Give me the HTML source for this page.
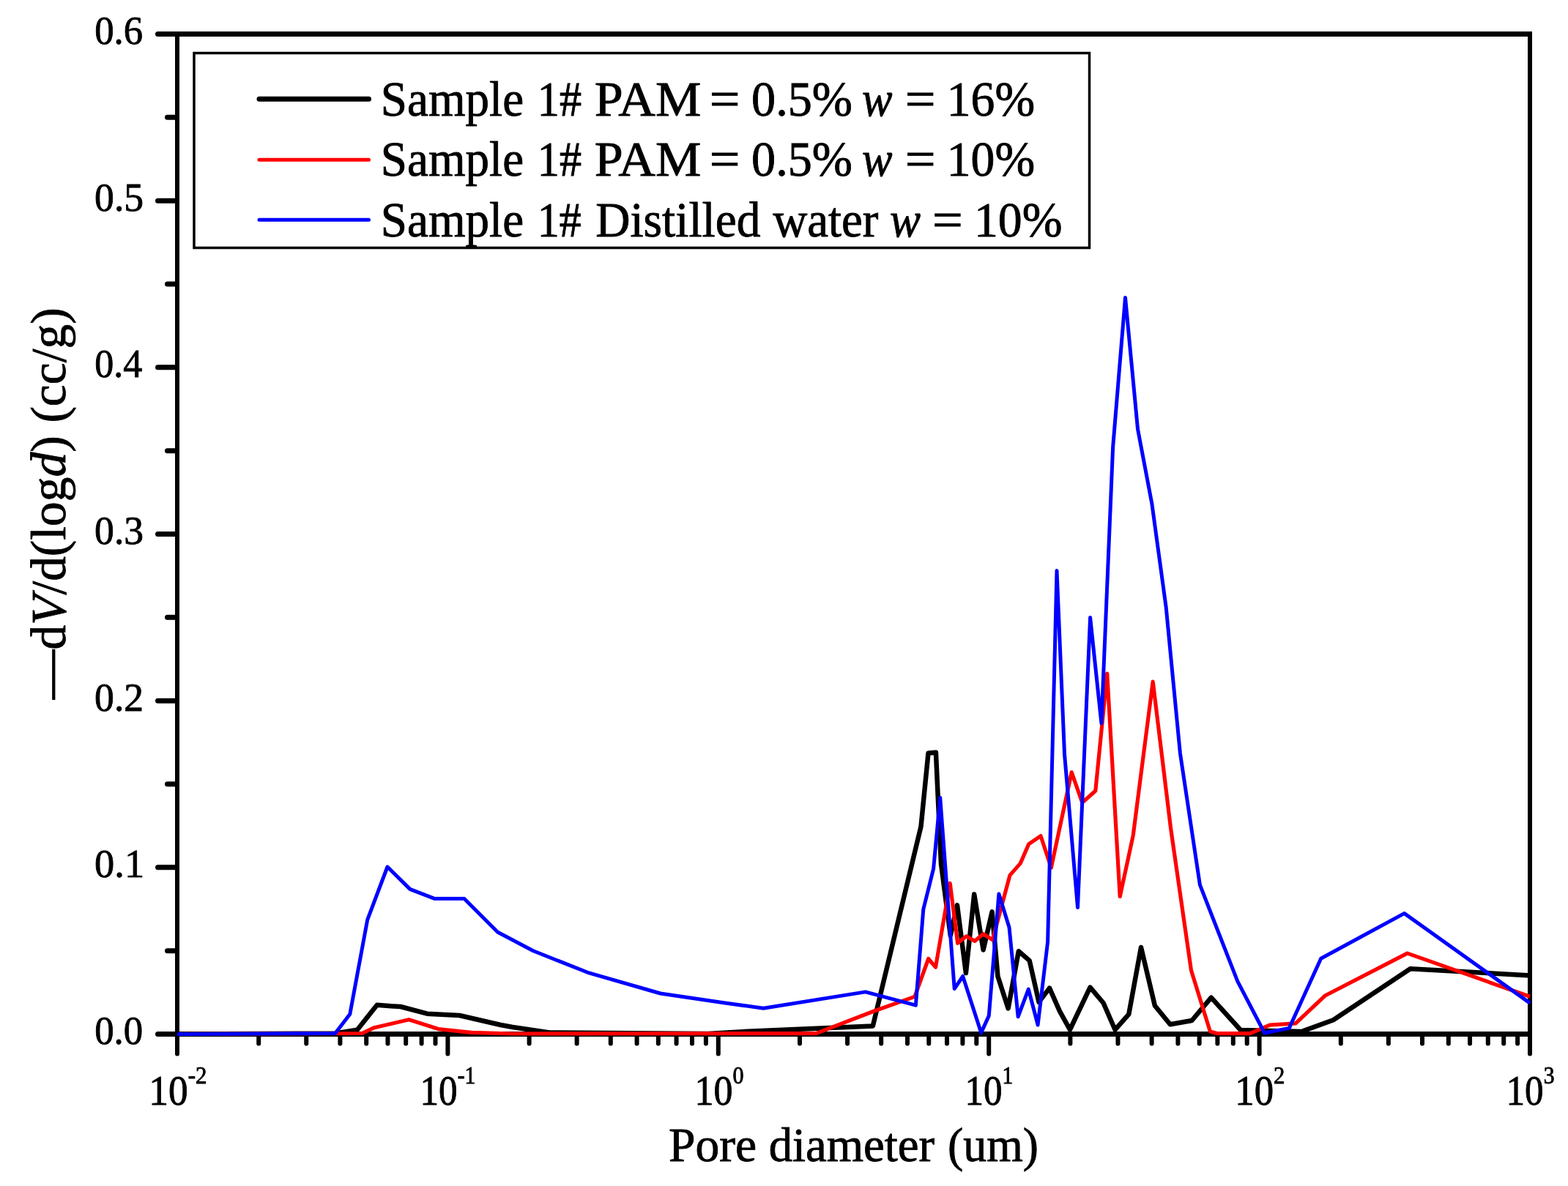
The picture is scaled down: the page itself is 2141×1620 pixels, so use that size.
<!DOCTYPE html>
<html><head><meta charset="utf-8"><title>Pore size distribution</title><style>html,body{margin:0;padding:0;background:#fff;overflow:hidden}svg{display:block}</style></head>
<body><svg width="2141" height="1620" viewBox="0 0 2141 1620">
<rect width="2141" height="1620" fill="#fff"/>
<path d="M239.0,46.5 H2092.0 M239.0,1412.5 H2092.0" fill="none" stroke="#000" stroke-width="7"/>
<path d="M242.0,43.0 V1416.0 M2089.0,43.0 V1416.0" fill="none" stroke="#000" stroke-width="6"/>
<line x1="239.0" y1="1412.50" x2="215.5" y2="1412.50" stroke="#000" stroke-width="7" stroke-linecap="round"/>
<line x1="239.0" y1="1184.83" x2="215.5" y2="1184.83" stroke="#000" stroke-width="7" stroke-linecap="round"/>
<line x1="239.0" y1="957.17" x2="215.5" y2="957.17" stroke="#000" stroke-width="7" stroke-linecap="round"/>
<line x1="239.0" y1="729.50" x2="215.5" y2="729.50" stroke="#000" stroke-width="7" stroke-linecap="round"/>
<line x1="239.0" y1="501.83" x2="215.5" y2="501.83" stroke="#000" stroke-width="7" stroke-linecap="round"/>
<line x1="239.0" y1="274.17" x2="215.5" y2="274.17" stroke="#000" stroke-width="7" stroke-linecap="round"/>
<line x1="239.0" y1="46.50" x2="215.5" y2="46.50" stroke="#000" stroke-width="7" stroke-linecap="round"/>
<line x1="239.0" y1="1298.67" x2="228.5" y2="1298.67" stroke="#000" stroke-width="7" stroke-linecap="round"/>
<line x1="239.0" y1="1071.00" x2="228.5" y2="1071.00" stroke="#000" stroke-width="7" stroke-linecap="round"/>
<line x1="239.0" y1="843.33" x2="228.5" y2="843.33" stroke="#000" stroke-width="7" stroke-linecap="round"/>
<line x1="239.0" y1="615.67" x2="228.5" y2="615.67" stroke="#000" stroke-width="7" stroke-linecap="round"/>
<line x1="239.0" y1="388.00" x2="228.5" y2="388.00" stroke="#000" stroke-width="7" stroke-linecap="round"/>
<line x1="239.0" y1="160.33" x2="228.5" y2="160.33" stroke="#000" stroke-width="7" stroke-linecap="round"/>
<line x1="242.00" y1="1415.5" x2="242.00" y2="1439.5" stroke="#000" stroke-width="6" stroke-linecap="round"/>
<line x1="353.20" y1="1415.5" x2="353.20" y2="1425.5" stroke="#000" stroke-width="6" stroke-linecap="round"/>
<line x1="418.25" y1="1415.5" x2="418.25" y2="1425.5" stroke="#000" stroke-width="6" stroke-linecap="round"/>
<line x1="464.40" y1="1415.5" x2="464.40" y2="1425.5" stroke="#000" stroke-width="6" stroke-linecap="round"/>
<line x1="500.20" y1="1415.5" x2="500.20" y2="1425.5" stroke="#000" stroke-width="6" stroke-linecap="round"/>
<line x1="529.45" y1="1415.5" x2="529.45" y2="1425.5" stroke="#000" stroke-width="6" stroke-linecap="round"/>
<line x1="554.18" y1="1415.5" x2="554.18" y2="1425.5" stroke="#000" stroke-width="6" stroke-linecap="round"/>
<line x1="575.60" y1="1415.5" x2="575.60" y2="1425.5" stroke="#000" stroke-width="6" stroke-linecap="round"/>
<line x1="594.50" y1="1415.5" x2="594.50" y2="1425.5" stroke="#000" stroke-width="6" stroke-linecap="round"/>
<line x1="611.40" y1="1415.5" x2="611.40" y2="1439.5" stroke="#000" stroke-width="6" stroke-linecap="round"/>
<line x1="722.60" y1="1415.5" x2="722.60" y2="1425.5" stroke="#000" stroke-width="6" stroke-linecap="round"/>
<line x1="787.65" y1="1415.5" x2="787.65" y2="1425.5" stroke="#000" stroke-width="6" stroke-linecap="round"/>
<line x1="833.80" y1="1415.5" x2="833.80" y2="1425.5" stroke="#000" stroke-width="6" stroke-linecap="round"/>
<line x1="869.60" y1="1415.5" x2="869.60" y2="1425.5" stroke="#000" stroke-width="6" stroke-linecap="round"/>
<line x1="898.85" y1="1415.5" x2="898.85" y2="1425.5" stroke="#000" stroke-width="6" stroke-linecap="round"/>
<line x1="923.58" y1="1415.5" x2="923.58" y2="1425.5" stroke="#000" stroke-width="6" stroke-linecap="round"/>
<line x1="945.00" y1="1415.5" x2="945.00" y2="1425.5" stroke="#000" stroke-width="6" stroke-linecap="round"/>
<line x1="963.90" y1="1415.5" x2="963.90" y2="1425.5" stroke="#000" stroke-width="6" stroke-linecap="round"/>
<line x1="980.80" y1="1415.5" x2="980.80" y2="1439.5" stroke="#000" stroke-width="6" stroke-linecap="round"/>
<line x1="1092.00" y1="1415.5" x2="1092.00" y2="1425.5" stroke="#000" stroke-width="6" stroke-linecap="round"/>
<line x1="1157.05" y1="1415.5" x2="1157.05" y2="1425.5" stroke="#000" stroke-width="6" stroke-linecap="round"/>
<line x1="1203.20" y1="1415.5" x2="1203.20" y2="1425.5" stroke="#000" stroke-width="6" stroke-linecap="round"/>
<line x1="1239.00" y1="1415.5" x2="1239.00" y2="1425.5" stroke="#000" stroke-width="6" stroke-linecap="round"/>
<line x1="1268.25" y1="1415.5" x2="1268.25" y2="1425.5" stroke="#000" stroke-width="6" stroke-linecap="round"/>
<line x1="1292.98" y1="1415.5" x2="1292.98" y2="1425.5" stroke="#000" stroke-width="6" stroke-linecap="round"/>
<line x1="1314.40" y1="1415.5" x2="1314.40" y2="1425.5" stroke="#000" stroke-width="6" stroke-linecap="round"/>
<line x1="1333.30" y1="1415.5" x2="1333.30" y2="1425.5" stroke="#000" stroke-width="6" stroke-linecap="round"/>
<line x1="1350.20" y1="1415.5" x2="1350.20" y2="1439.5" stroke="#000" stroke-width="6" stroke-linecap="round"/>
<line x1="1461.40" y1="1415.5" x2="1461.40" y2="1425.5" stroke="#000" stroke-width="6" stroke-linecap="round"/>
<line x1="1526.45" y1="1415.5" x2="1526.45" y2="1425.5" stroke="#000" stroke-width="6" stroke-linecap="round"/>
<line x1="1572.60" y1="1415.5" x2="1572.60" y2="1425.5" stroke="#000" stroke-width="6" stroke-linecap="round"/>
<line x1="1608.40" y1="1415.5" x2="1608.40" y2="1425.5" stroke="#000" stroke-width="6" stroke-linecap="round"/>
<line x1="1637.65" y1="1415.5" x2="1637.65" y2="1425.5" stroke="#000" stroke-width="6" stroke-linecap="round"/>
<line x1="1662.38" y1="1415.5" x2="1662.38" y2="1425.5" stroke="#000" stroke-width="6" stroke-linecap="round"/>
<line x1="1683.80" y1="1415.5" x2="1683.80" y2="1425.5" stroke="#000" stroke-width="6" stroke-linecap="round"/>
<line x1="1702.70" y1="1415.5" x2="1702.70" y2="1425.5" stroke="#000" stroke-width="6" stroke-linecap="round"/>
<line x1="1719.60" y1="1415.5" x2="1719.60" y2="1439.5" stroke="#000" stroke-width="6" stroke-linecap="round"/>
<line x1="1830.80" y1="1415.5" x2="1830.80" y2="1425.5" stroke="#000" stroke-width="6" stroke-linecap="round"/>
<line x1="1895.85" y1="1415.5" x2="1895.85" y2="1425.5" stroke="#000" stroke-width="6" stroke-linecap="round"/>
<line x1="1942.00" y1="1415.5" x2="1942.00" y2="1425.5" stroke="#000" stroke-width="6" stroke-linecap="round"/>
<line x1="1977.80" y1="1415.5" x2="1977.80" y2="1425.5" stroke="#000" stroke-width="6" stroke-linecap="round"/>
<line x1="2007.05" y1="1415.5" x2="2007.05" y2="1425.5" stroke="#000" stroke-width="6" stroke-linecap="round"/>
<line x1="2031.78" y1="1415.5" x2="2031.78" y2="1425.5" stroke="#000" stroke-width="6" stroke-linecap="round"/>
<line x1="2053.20" y1="1415.5" x2="2053.20" y2="1425.5" stroke="#000" stroke-width="6" stroke-linecap="round"/>
<line x1="2072.10" y1="1415.5" x2="2072.10" y2="1425.5" stroke="#000" stroke-width="6" stroke-linecap="round"/>
<line x1="2089.00" y1="1415.5" x2="2089.00" y2="1439.5" stroke="#000" stroke-width="6" stroke-linecap="round"/>
<path d="M242.0,1412.5 L458.0,1411.5 L487.8,1406.8 L514.8,1372.8 L534.0,1374.3 L547.0,1375.0 L583.3,1384.7 L627.4,1387.0 L683.6,1400.0 L700.0,1403.0 L750.4,1410.5 L967.0,1412.0 L1021.5,1408.8 L1191.8,1401.5 L1257.5,1129.0 L1267.5,1028.8 L1277.9,1027.8 L1285.0,1180.0 L1297.8,1277.8 L1307.0,1236.3 L1318.9,1329.1 L1330.2,1221.5 L1342.6,1297.5 L1354.6,1245.4 L1362.4,1333.4 L1376.6,1377.4 L1390.8,1299.3 L1405.7,1312.1 L1418.5,1368.9 L1433.0,1349.6 L1446.9,1381.1 L1460.9,1406.5 L1488.5,1348.7 L1506.6,1370.0 L1522.5,1406.5 L1541.3,1385.3 L1558.0,1294.0 L1576.9,1373.7 L1597.8,1399.2 L1627.4,1394.0 L1653.8,1362.6 L1694.0,1407.0 L1777.5,1409.0 L1820.5,1393.2 L1925.7,1323.2 L2089.0,1332.5" fill="none" stroke="#000" stroke-width="6.5" stroke-linejoin="round"/>
<path d="M242.0,1412.5 L494.2,1411.5 L511.0,1403.7 L558.4,1392.7 L598.5,1405.6 L643.5,1410.4 L700.0,1412.0 L1114.2,1411.6 L1194.3,1380.7 L1249.0,1361.4 L1267.7,1309.5 L1277.5,1321.2 L1297.2,1206.5 L1307.6,1288.3 L1319.6,1278.8 L1331.0,1285.4 L1342.6,1275.6 L1355.3,1283.7 L1378.9,1195.6 L1393.2,1179.4 L1404.8,1152.8 L1421.0,1141.8 L1435.3,1185.2 L1463.2,1054.9 L1477.8,1096.3 L1495.8,1080.2 L1511.7,920.0 L1529.2,1224.7 L1547.2,1141.2 L1574.2,931.2 L1598.6,1131.6 L1626.5,1325.6 L1652.4,1408.9 L1662.6,1411.7 L1707.0,1411.7 L1733.6,1400.2 L1769.1,1397.9 L1809.3,1360.0 L1921.6,1302.1 L2089.0,1361.3" fill="none" stroke="#f00" stroke-width="5.2" stroke-linejoin="round"/>
<path d="M242.0,1412.5 L457.7,1411.4 L477.8,1385.2 L501.7,1256.4 L529.0,1184.0 L560.0,1214.6 L593.0,1227.4 L633.9,1227.4 L679.6,1273.2 L728.0,1298.8 L802.3,1328.3 L901.8,1357.0 L990.0,1370.0 L1042.3,1377.2 L1181.7,1354.9 L1250.4,1373.1 L1260.8,1242.0 L1274.6,1186.7 L1283.7,1089.4 L1303.2,1350.6 L1314.7,1333.5 L1339.7,1410.8 L1350.3,1387.4 L1363.9,1221.0 L1378.0,1266.7 L1390.1,1388.8 L1404.3,1351.2 L1417.1,1400.0 L1430.6,1286.5 L1443.0,779.5 L1453.5,1030.0 L1471.5,1239.6 L1488.6,843.5 L1503.9,987.9 L1519.6,611.3 L1536.5,406.5 L1553.5,586.0 L1572.9,688.3 L1592.2,829.7 L1611.4,1028.8 L1638.4,1208.7 L1689.8,1340.4 L1726.6,1411.0 L1760.3,1404.4 L1803.7,1309.2 L1917.5,1247.6 L2089.0,1370.1" fill="none" stroke="#00f" stroke-width="5" stroke-linejoin="round"/>
<rect x="265" y="72.5" width="1222.5" height="266" fill="none" stroke="#000" stroke-width="3.5"/>
<line x1="354" y1="135.2" x2="503.5" y2="135.2" stroke="#000" stroke-width="7" stroke-linecap="round"/>
<line x1="354" y1="218.3" x2="503.5" y2="218.3" stroke="#f00" stroke-width="5" stroke-linecap="round"/>
<line x1="354" y1="300.2" x2="503.5" y2="300.2" stroke="#00f" stroke-width="5" stroke-linecap="round"/>
<text transform="translate(131.00,1389.00) scale(0.9265,0.9744) translate(-2,38)" font-family="Liberation Serif, Times New Roman, serif" stroke="#000" stroke-width="0.9" font-size="57">0.0</text>
<text transform="translate(131.00,1161.33) scale(0.9545,0.9744) translate(-2,38)" font-family="Liberation Serif, Times New Roman, serif" stroke="#000" stroke-width="0.9" font-size="57">0.1</text>
<text transform="translate(131.00,933.67) scale(0.9403,0.9744) translate(-2,38)" font-family="Liberation Serif, Times New Roman, serif" stroke="#000" stroke-width="0.9" font-size="57">0.2</text>
<text transform="translate(131.00,706.00) scale(0.9403,0.9744) translate(-2,38)" font-family="Liberation Serif, Times New Roman, serif" stroke="#000" stroke-width="0.9" font-size="57">0.3</text>
<text transform="translate(131.00,478.33) scale(0.9130,0.9744) translate(-2,38)" font-family="Liberation Serif, Times New Roman, serif" stroke="#000" stroke-width="0.9" font-size="57">0.4</text>
<text transform="translate(131.00,250.67) scale(0.9403,0.9744) translate(-2,38)" font-family="Liberation Serif, Times New Roman, serif" stroke="#000" stroke-width="0.9" font-size="57">0.5</text>
<text transform="translate(131.00,23.00) scale(0.9265,0.9744) translate(-2,38)" font-family="Liberation Serif, Times New Roman, serif" stroke="#000" stroke-width="0.9" font-size="57">0.6</text>
<text transform="translate(208.00,1458.00) scale(0.9359,1.0000) translate(-5,51)" font-family="Liberation Serif, Times New Roman, serif" stroke="#000" stroke-width="0.9" font-size="57">10<tspan font-size="33" dy="-29">-2</tspan></text>
<text transform="translate(578.00,1458.00) scale(0.8974,1.0000) translate(-5,51)" font-family="Liberation Serif, Times New Roman, serif" stroke="#000" stroke-width="0.9" font-size="57">10<tspan font-size="33" dy="-29">-1</tspan></text>
<text transform="translate(953.00,1458.00) scale(0.9118,1.0000) translate(-5,51)" font-family="Liberation Serif, Times New Roman, serif" stroke="#000" stroke-width="0.9" font-size="57">10<tspan font-size="33" dy="-29">0</tspan></text>
<text transform="translate(1322.00,1458.00) scale(0.8955,1.0000) translate(-5,51)" font-family="Liberation Serif, Times New Roman, serif" stroke="#000" stroke-width="0.9" font-size="57">10<tspan font-size="33" dy="-29">1</tspan></text>
<text transform="translate(1691.00,1458.00) scale(0.9254,1.0000) translate(-5,51)" font-family="Liberation Serif, Times New Roman, serif" stroke="#000" stroke-width="0.9" font-size="57">10<tspan font-size="33" dy="-29">2</tspan></text>
<text transform="translate(2061.00,1458.00) scale(0.8971,1.0000) translate(-5,51)" font-family="Liberation Serif, Times New Roman, serif" stroke="#000" stroke-width="0.9" font-size="57">10<tspan font-size="33" dy="-29">3</tspan></text>
<text transform="translate(519.78,158.47) scale(0.9304,0.9688)" font-family="Liberation Serif, Times New Roman, serif" stroke="#000" stroke-width="0.9" font-size="70">Sample</text>
<text transform="translate(733.84,158.47) scale(0.8603,0.9688)" font-family="Liberation Serif, Times New Roman, serif" stroke="#000" stroke-width="0.9" font-size="70">1#</text>
<text transform="translate(811.80,158.47) scale(1.0021,0.9688)" font-family="Liberation Serif, Times New Roman, serif" stroke="#000" stroke-width="0.9" font-size="70">PAM</text>
<text transform="translate(968.63,158.47) scale(1.0559,0.9688)" font-family="Liberation Serif, Times New Roman, serif" stroke="#000" stroke-width="0.9" font-size="70">=</text>
<text transform="translate(1026.11,158.47) scale(0.9458,0.9688)" font-family="Liberation Serif, Times New Roman, serif" stroke="#000" stroke-width="0.9" font-size="70">0.5%</text>
<text transform="translate(1177.11,158.47) scale(0.8891,0.9688)" font-family="Liberation Serif, Times New Roman, serif" stroke="#000" stroke-width="0.9" font-size="70"><tspan font-style="italic">w</tspan></text>
<text transform="translate(1235.72,158.47) scale(1.0588,0.9688)" font-family="Liberation Serif, Times New Roman, serif" stroke="#000" stroke-width="0.9" font-size="70">=</text>
<text transform="translate(1292.77,158.47) scale(0.9383,0.9688)" font-family="Liberation Serif, Times New Roman, serif" stroke="#000" stroke-width="0.9" font-size="70">16%</text>
<text transform="translate(519.78,240.42) scale(0.9304,0.9719)" font-family="Liberation Serif, Times New Roman, serif" stroke="#000" stroke-width="0.9" font-size="70">Sample</text>
<text transform="translate(733.84,240.42) scale(0.8603,0.9719)" font-family="Liberation Serif, Times New Roman, serif" stroke="#000" stroke-width="0.9" font-size="70">1#</text>
<text transform="translate(811.80,240.42) scale(1.0021,0.9719)" font-family="Liberation Serif, Times New Roman, serif" stroke="#000" stroke-width="0.9" font-size="70">PAM</text>
<text transform="translate(968.63,240.42) scale(1.0559,0.9719)" font-family="Liberation Serif, Times New Roman, serif" stroke="#000" stroke-width="0.9" font-size="70">=</text>
<text transform="translate(1026.11,240.42) scale(0.9458,0.9719)" font-family="Liberation Serif, Times New Roman, serif" stroke="#000" stroke-width="0.9" font-size="70">0.5%</text>
<text transform="translate(1177.11,240.42) scale(0.8891,0.9719)" font-family="Liberation Serif, Times New Roman, serif" stroke="#000" stroke-width="0.9" font-size="70"><tspan font-style="italic">w</tspan></text>
<text transform="translate(1235.72,240.42) scale(1.0588,0.9719)" font-family="Liberation Serif, Times New Roman, serif" stroke="#000" stroke-width="0.9" font-size="70">=</text>
<text transform="translate(1292.77,240.42) scale(0.9383,0.9719)" font-family="Liberation Serif, Times New Roman, serif" stroke="#000" stroke-width="0.9" font-size="70">10%</text>
<text transform="translate(519.78,322.77) scale(0.9304,0.9688)" font-family="Liberation Serif, Times New Roman, serif" stroke="#000" stroke-width="0.9" font-size="70">Sample</text>
<text transform="translate(733.86,322.77) scale(0.8571,0.9688)" font-family="Liberation Serif, Times New Roman, serif" stroke="#000" stroke-width="0.9" font-size="70">1#</text>
<text transform="translate(813.13,322.77) scale(0.9351,0.9688)" font-family="Liberation Serif, Times New Roman, serif" stroke="#000" stroke-width="0.9" font-size="70">Distilled</text>
<text transform="translate(1055.40,322.77) scale(0.9265,0.9688)" font-family="Liberation Serif, Times New Roman, serif" stroke="#000" stroke-width="0.9" font-size="70">water</text>
<text transform="translate(1214.90,322.77) scale(0.9000,0.9688)" font-family="Liberation Serif, Times New Roman, serif" stroke="#000" stroke-width="0.9" font-size="70"><tspan font-style="italic">w</tspan></text>
<text transform="translate(1272.92,322.77) scale(1.0588,0.9688)" font-family="Liberation Serif, Times New Roman, serif" stroke="#000" stroke-width="0.9" font-size="70">=</text>
<text transform="translate(1329.96,322.77) scale(0.9400,0.9688)" font-family="Liberation Serif, Times New Roman, serif" stroke="#000" stroke-width="0.9" font-size="70">10%</text>
<text transform="translate(913.02,1586.48) scale(0.9783,0.9683)" font-family="Liberation Serif, Times New Roman, serif" stroke="#000" stroke-width="0.9" font-size="67">Pore</text>
<text transform="translate(1049.67,1586.48) scale(0.9664,0.9683)" font-family="Liberation Serif, Times New Roman, serif" stroke="#000" stroke-width="0.9" font-size="67">diameter</text>
<text transform="translate(1294.10,1586.48) scale(0.9524,0.9683)" font-family="Liberation Serif, Times New Roman, serif" stroke="#000" stroke-width="0.9" font-size="67">(um)</text>
<text transform="translate(89.19,955.06) scale(0.9254,0.9372) rotate(-90)" font-family="Liberation Serif, Times New Roman, serif" stroke="#000" stroke-width="0.9" font-size="72">—d<tspan font-style="italic">V</tspan>/d(log<tspan font-style="italic">d</tspan>)</text>
<text transform="translate(89.19,577.61) scale(0.9254,0.9370) rotate(-90)" font-family="Liberation Serif, Times New Roman, serif" stroke="#000" stroke-width="0.9" font-size="72">(cc/g)</text>
</svg></body></html>
